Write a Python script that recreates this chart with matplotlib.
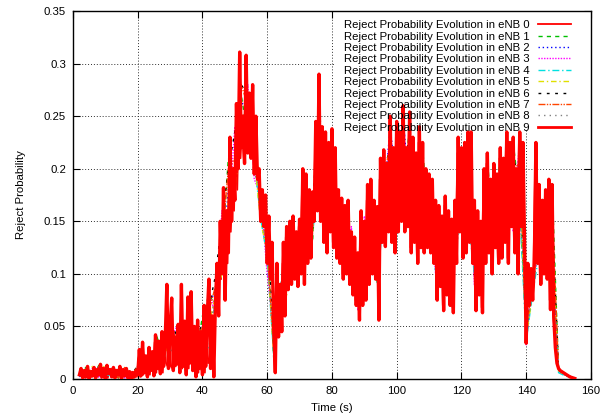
import numpy as np
import matplotlib
matplotlib.use('Agg')
import matplotlib.pyplot as plt
from matplotlib.patches import Rectangle
from matplotlib.ticker import FuncFormatter, MultipleLocator

plt.rcParams['font.family'] = ['Liberation Sans', 'DejaVu Sans']

# time axes: eNB 9 and eNB 0 are sampled finely (offset by a quarter second),
# the other eNBs every 2 s
t_enb9 = np.arange(2.0, 155.01, 0.5)
t_enb0 = np.arange(2.25, 154.76, 0.5)
t_coarse = np.arange(2.0, 154.01, 2.0)

# eNB 9 (drawn last, covers most of the others)
enb9 = [
    0.004, 0.010, 0.001, 0.008, 0.002, 0.012, 0.000, 0.007, 0.003, 0.011,
    0.001, 0.009, 0.004, 0.014, 0.002, 0.010, 0.000, 0.013, 0.005, 0.009,
    0.002, 0.011, 0.001, 0.008, 0.004, 0.012, 0.000, 0.009, 0.003, 0.010,
    0.001, 0.007, 0.000, 0.006, 0.002, 0.008, 0.004, 0.028, 0.003, 0.035,
    0.006, 0.022, 0.002, 0.030, 0.008, 0.026, 0.003, 0.042, 0.010, 0.036,
    0.005, 0.045, 0.012, 0.038, 0.090, 0.010, 0.048, 0.077, 0.008, 0.040,
    0.014, 0.052, 0.006, 0.090, 0.012, 0.055, 0.004, 0.078, 0.015, 0.083,
    0.008, 0.050, 0.002, 0.056, 0.010, 0.045, 0.004, 0.070, 0.012, 0.062,
    0.095, 0.010, 0.060, 0.002, 0.072, 0.110, 0.060, 0.150, 0.100, 0.182,
    0.075, 0.160, 0.120, 0.230, 0.150, 0.200, 0.170, 0.262, 0.200, 0.311,
    0.220, 0.250, 0.205, 0.308, 0.215, 0.272, 0.210, 0.280, 0.195, 0.250,
    0.190, 0.200, 0.150, 0.180, 0.145, 0.175, 0.110, 0.155, 0.095, 0.130,
    0.050, 0.006, 0.110, 0.040, 0.090, 0.045, 0.130, 0.060, 0.145, 0.085,
    0.150, 0.090, 0.155, 0.095, 0.140, 0.088, 0.152, 0.100, 0.200, 0.090,
    0.195, 0.110, 0.180, 0.115, 0.178, 0.150, 0.245, 0.160, 0.290, 0.150,
    0.240, 0.130, 0.235, 0.120, 0.225, 0.140, 0.238, 0.125, 0.220, 0.115,
    0.180, 0.110, 0.172, 0.095, 0.165, 0.100, 0.170, 0.090, 0.140, 0.080,
    0.135, 0.070, 0.120, 0.056, 0.160, 0.070, 0.150, 0.075, 0.185, 0.090,
    0.190, 0.100, 0.170, 0.095, 0.164, 0.056, 0.210, 0.130, 0.218, 0.126,
    0.205, 0.140, 0.250, 0.130, 0.220, 0.120, 0.245, 0.140, 0.235, 0.150,
    0.260, 0.140, 0.220, 0.145, 0.254, 0.120, 0.230, 0.130, 0.215, 0.110,
    0.240, 0.125, 0.225, 0.120, 0.200, 0.125, 0.195, 0.120, 0.190, 0.110,
    0.170, 0.075, 0.165, 0.088, 0.155, 0.065, 0.174, 0.080, 0.160, 0.070,
    0.152, 0.063, 0.170, 0.110, 0.230, 0.140, 0.220, 0.115, 0.225, 0.120,
    0.235, 0.130, 0.235, 0.110, 0.170, 0.065, 0.160, 0.080, 0.150, 0.063,
    0.200, 0.110, 0.215, 0.120, 0.190, 0.100, 0.205, 0.125, 0.195, 0.110,
    0.220, 0.115, 0.210, 0.130, 0.235, 0.110, 0.225, 0.145, 0.230, 0.120,
    0.200, 0.100, 0.235, 0.145, 0.225, 0.130, 0.034, 0.110, 0.070, 0.105,
    0.075, 0.110, 0.225, 0.110, 0.185, 0.090, 0.170, 0.100, 0.180, 0.095,
    0.190, 0.066, 0.185, 0.060, 0.030, 0.015, 0.010, 0.008, 0.007, 0.006,
    0.005, 0.004, 0.003, 0.002, 0.0015, 0.001, 0.0005,
]

# eNB 0 (thin red, mostly hidden in the eNB 9 band)
enb0 = [
    0.009, 0.002, 0.007, 0.001, 0.011, 0.001, 0.008, 0.002, 0.010, 0.001,
    0.008, 0.002, 0.012, 0.001, 0.009, 0.002, 0.011, 0.001, 0.008, 0.002,
    0.010, 0.001, 0.009, 0.002, 0.011, 0.001, 0.008, 0.002, 0.009, 0.001,
    0.006, 0.001, 0.007, 0.001, 0.006, 0.002, 0.020, 0.002, 0.025, 0.004,
    0.018, 0.003, 0.025, 0.004, 0.022, 0.005, 0.035, 0.006, 0.030, 0.008,
    0.040, 0.006, 0.035, 0.015, 0.012, 0.040, 0.012, 0.010, 0.045, 0.012,
    0.045, 0.010, 0.050, 0.010, 0.048, 0.008, 0.055, 0.010, 0.050, 0.012,
    0.045, 0.005, 0.050, 0.006, 0.040, 0.008, 0.055, 0.006, 0.050, 0.015,
    0.020, 0.055, 0.008, 0.060, 0.090, 0.065, 0.120, 0.095, 0.150, 0.090,
    0.140, 0.110, 0.190, 0.140, 0.180, 0.160, 0.230, 0.180, 0.260, 0.210,
    0.240, 0.210, 0.270, 0.215, 0.250, 0.215, 0.255, 0.205, 0.230, 0.195,
    0.190, 0.160, 0.170, 0.150, 0.160, 0.125, 0.145, 0.100, 0.125, 0.080,
    0.020, 0.080, 0.050, 0.085, 0.050, 0.110, 0.065, 0.135, 0.085, 0.140,
    0.095, 0.145, 0.100, 0.135, 0.095, 0.145, 0.105, 0.180, 0.100, 0.185,
    0.115, 0.170, 0.120, 0.165, 0.150, 0.210, 0.165, 0.240, 0.160, 0.220,
    0.140, 0.220, 0.125, 0.215, 0.145, 0.225, 0.130, 0.210, 0.120, 0.175,
    0.115, 0.165, 0.100, 0.160, 0.105, 0.160, 0.095, 0.135, 0.085, 0.125,
    0.075, 0.115, 0.065, 0.145, 0.075, 0.140, 0.080, 0.170, 0.095, 0.180,
    0.105, 0.160, 0.100, 0.155, 0.080, 0.190, 0.135, 0.205, 0.130, 0.200,
    0.145, 0.225, 0.135, 0.210, 0.125, 0.230, 0.145, 0.225, 0.155, 0.235,
    0.145, 0.215, 0.150, 0.240, 0.125, 0.220, 0.135, 0.205, 0.115, 0.225,
    0.130, 0.215, 0.125, 0.195, 0.130, 0.190, 0.125, 0.180, 0.115, 0.160,
    0.080, 0.155, 0.090, 0.150, 0.070, 0.165, 0.085, 0.150, 0.075, 0.145,
    0.068, 0.160, 0.115, 0.215, 0.145, 0.210, 0.120, 0.215, 0.125, 0.225,
    0.135, 0.225, 0.115, 0.160, 0.070, 0.150, 0.085, 0.140, 0.068, 0.190,
    0.115, 0.205, 0.125, 0.185, 0.105, 0.195, 0.130, 0.185, 0.115, 0.210,
    0.120, 0.200, 0.135, 0.225, 0.115, 0.215, 0.150, 0.220, 0.125, 0.190,
    0.105, 0.225, 0.150, 0.215, 0.135, 0.060, 0.090, 0.080, 0.100, 0.080,
    0.105, 0.200, 0.115, 0.175, 0.095, 0.160, 0.105, 0.170, 0.100, 0.180,
    0.075, 0.175, 0.065, 0.045, 0.020, 0.012, 0.009, 0.0075, 0.0065, 0.0055,
    0.0045, 0.0035, 0.0025, 0.0018, 0.0012, 0.0008,
]

enb1 = [
    0.004, 0.011, 0.001, 0.013, 0.003, 0.010, 0.001, 0.006, 0.002, 0.012,
    0.025, 0.008, 0.040, 0.015, 0.050, 0.035, 0.030, 0.065, 0.020, 0.060,
    0.080, 0.070, 0.120, 0.210, 0.190, 0.270, 0.230, 0.240, 0.150, 0.140,
    0.020, 0.090, 0.090, 0.145, 0.100, 0.190, 0.130, 0.240, 0.170, 0.230,
    0.130, 0.160, 0.100, 0.110, 0.100, 0.185, 0.090, 0.210, 0.170, 0.235,
    0.180, 0.240, 0.150, 0.220, 0.140, 0.160, 0.090, 0.150, 0.120, 0.220,
    0.160, 0.160, 0.090, 0.210, 0.130, 0.215, 0.150, 0.225, 0.170, 0.045,
    0.080, 0.180, 0.120, 0.185, 0.008, 0.004, 0.002,
]
enb2 = [
    0.002, 0.008, 0.004, 0.012, 0.001, 0.011, 0.003, 0.009, 0.001, 0.010,
    0.015, 0.018, 0.030, 0.028, 0.045, 0.040, 0.025, 0.060, 0.015, 0.045,
    0.070, 0.085, 0.110, 0.180, 0.200, 0.260, 0.270, 0.200, 0.170, 0.110,
    0.035, 0.060, 0.130, 0.110, 0.140, 0.150, 0.170, 0.220, 0.230, 0.170,
    0.170, 0.120, 0.140, 0.070, 0.150, 0.130, 0.150, 0.170, 0.240, 0.180,
    0.250, 0.170, 0.200, 0.160, 0.190, 0.110, 0.140, 0.100, 0.160, 0.170,
    0.220, 0.100, 0.140, 0.150, 0.190, 0.150, 0.220, 0.160, 0.220, 0.035,
    0.100, 0.130, 0.170, 0.120, 0.009, 0.004, 0.002,
]
enb3 = [
    0.007, 0.003, 0.010, 0.002, 0.012, 0.004, 0.009, 0.001, 0.006, 0.008,
    0.012, 0.025, 0.020, 0.040, 0.035, 0.050, 0.040, 0.045, 0.040, 0.035,
    0.085, 0.060, 0.160, 0.150, 0.240, 0.220, 0.280, 0.190, 0.175, 0.100,
    0.045, 0.050, 0.140, 0.100, 0.145, 0.130, 0.175, 0.200, 0.235, 0.150,
    0.175, 0.110, 0.145, 0.065, 0.155, 0.120, 0.160, 0.150, 0.245, 0.150,
    0.255, 0.150, 0.215, 0.140, 0.195, 0.100, 0.155, 0.085, 0.165, 0.150,
    0.230, 0.090, 0.145, 0.130, 0.195, 0.130, 0.230, 0.140, 0.230, 0.032,
    0.105, 0.110, 0.175, 0.100, 0.009, 0.004, 0.002,
]
enb4 = [
    0.004, 0.004, 0.003, 0.005, 0.004, 0.003, 0.004, 0.003, 0.002, 0.006,
    0.009, 0.010, 0.017, 0.020, 0.028, 0.024, 0.025, 0.030, 0.017, 0.028,
    0.030, 0.075, 0.110, 0.153, 0.197, 0.233, 0.234, 0.208, 0.152, 0.117,
    0.022, 0.058, 0.086, 0.110, 0.108, 0.130, 0.138, 0.192, 0.156, 0.163,
    0.131, 0.114, 0.101, 0.075, 0.097, 0.127, 0.092, 0.157, 0.166, 0.158,
    0.176, 0.159, 0.143, 0.153, 0.144, 0.103, 0.094, 0.097, 0.121, 0.153,
    0.155, 0.100, 0.089, 0.142, 0.137, 0.146, 0.148, 0.153, 0.162, 0.036,
    0.082, 0.119, 0.121, 0.099, 0.006, 0.003, 0.001,
]
enb5 = [
    0.009, 0.002, 0.012, 0.004, 0.014, 0.002, 0.010, 0.003, 0.005, 0.003,
    0.018, 0.010, 0.028, 0.018, 0.040, 0.025, 0.050, 0.035, 0.045, 0.030,
    0.050, 0.080, 0.100, 0.170, 0.180, 0.240, 0.230, 0.210, 0.150, 0.120,
    0.025, 0.070, 0.080, 0.120, 0.110, 0.140, 0.140, 0.190, 0.180, 0.180,
    0.140, 0.130, 0.110, 0.080, 0.120, 0.140, 0.110, 0.160, 0.190, 0.170,
    0.200, 0.190, 0.170, 0.180, 0.160, 0.120, 0.110, 0.120, 0.130, 0.170,
    0.180, 0.120, 0.100, 0.160, 0.150, 0.170, 0.180, 0.170, 0.190, 0.038,
    0.085, 0.140, 0.140, 0.130, 0.007, 0.004, 0.002,
]
enb6 = [
    0.006, 0.007, 0.006, 0.009, 0.008, 0.007, 0.006, 0.007, 0.005, 0.012,
    0.018, 0.020, 0.032, 0.036, 0.055, 0.042, 0.045, 0.060, 0.040, 0.052,
    0.068, 0.098, 0.150, 0.200, 0.235, 0.280, 0.270, 0.235, 0.170, 0.142,
    0.040, 0.085, 0.122, 0.138, 0.135, 0.175, 0.165, 0.255, 0.210, 0.212,
    0.162, 0.150, 0.132, 0.104, 0.138, 0.168, 0.138, 0.198, 0.220, 0.212,
    0.230, 0.218, 0.192, 0.202, 0.180, 0.146, 0.137, 0.138, 0.152, 0.202,
    0.206, 0.145, 0.128, 0.189, 0.178, 0.194, 0.204, 0.202, 0.209, 0.045,
    0.100, 0.162, 0.160, 0.158, 0.009, 0.004, 0.002,
]
enb7 = [
    0.005, 0.010, 0.002, 0.012, 0.006, 0.009, 0.001, 0.011, 0.003, 0.012,
    0.016, 0.022, 0.028, 0.035, 0.055, 0.038, 0.042, 0.055, 0.035, 0.050,
    0.065, 0.088, 0.130, 0.200, 0.210, 0.280, 0.260, 0.230, 0.165, 0.125,
    0.028, 0.085, 0.100, 0.140, 0.115, 0.170, 0.145, 0.250, 0.190, 0.210,
    0.155, 0.145, 0.125, 0.085, 0.140, 0.165, 0.130, 0.195, 0.220, 0.210,
    0.225, 0.210, 0.185, 0.200, 0.175, 0.140, 0.125, 0.135, 0.145, 0.200,
    0.205, 0.140, 0.120, 0.190, 0.170, 0.190, 0.205, 0.200, 0.205, 0.042,
    0.095, 0.160, 0.155, 0.160, 0.009, 0.005, 0.002,
]
enb8 = [
    0.005, 0.004, 0.005, 0.006, 0.006, 0.004, 0.005, 0.005, 0.003, 0.008,
    0.012, 0.013, 0.020, 0.025, 0.035, 0.027, 0.030, 0.038, 0.022, 0.035,
    0.040, 0.085, 0.120, 0.165, 0.205, 0.245, 0.245, 0.215, 0.158, 0.122,
    0.028, 0.064, 0.094, 0.116, 0.114, 0.140, 0.145, 0.206, 0.168, 0.174,
    0.138, 0.122, 0.108, 0.082, 0.106, 0.136, 0.100, 0.167, 0.178, 0.170,
    0.188, 0.170, 0.152, 0.163, 0.150, 0.112, 0.102, 0.106, 0.128, 0.165,
    0.168, 0.110, 0.098, 0.152, 0.146, 0.157, 0.160, 0.165, 0.172, 0.040,
    0.086, 0.128, 0.130, 0.110, 0.007, 0.004, 0.002,
]

labels = ['Reject Probability Evolution in eNB %d' % i for i in range(10)]
colors = ['#ff0000', '#00c000', '#0000ff', '#ff00ff', '#00e0e0',
          '#e0e000', '#000000', '#ff4500', '#808080', '#ff0000']
styles = ['-', (0, (3, 3)), (0, (1, 2)), (0, (1, 1)), (0, (5, 2, 1, 2)),
          (0, (4, 2, 1, 2)), (0, (2, 4)), (0, (5, 1, 1, 1, 1, 1)), (0, (1, 3)), '-']

fig = plt.figure(figsize=(6.03, 4.19), dpi=100)
ax = fig.add_axes([0.121, 0.0955, 0.859, 0.878])

ax.plot(t_enb0, enb0, color=colors[0], linestyle=styles[0], lw=1.3,
        label=labels[0], zorder=2)
coarse = [enb1, enb2, enb3, enb4, enb5, enb6, enb7, enb8]
for i, ys in enumerate(coarse, start=1):
    ax.plot(t_coarse, ys, color=colors[i], linestyle=styles[i], lw=1.0,
            label=labels[i], zorder=2)
ax.plot(t_enb9, enb9, color=colors[9], linestyle='-', lw=2.4,
        label=labels[9], zorder=3)

ax.set_xlim(0, 160)
ax.set_ylim(0, 0.35)
ax.xaxis.set_major_locator(MultipleLocator(20))
ax.yaxis.set_major_locator(MultipleLocator(0.05))
ax.yaxis.set_major_formatter(FuncFormatter(lambda v, p: '%g' % round(v, 3)))
ax.tick_params(direction='in', top=True, right=True, length=5, width=0.8,
               labelsize=8.2, pad=5, colors='black')

# gnuplot style dotted grid, hidden behind the key box
ax.set_axisbelow(True)
ax.grid(True, linestyle=(0, (1, 2)), color='#303030', lw=0.7)
ax.add_patch(Rectangle((80.6, 0.2365), 80, 0.12, facecolor='white',
                       edgecolor='none', zorder=1))

for s in ax.spines.values():
    s.set_linewidth(1.0)

ax.set_xlabel('Time (s)', fontsize=8.2, labelpad=5)
ax.set_ylabel('Reject Probability', fontsize=8.2, labelpad=13)

leg = ax.legend(loc='upper right', bbox_to_anchor=(0.961, 0.975),
                frameon=False, fontsize=8.2, markerfirst=False,
                handlelength=2.9, handletextpad=0.7, labelspacing=0.12,
                borderpad=0, borderaxespad=0)
leg.set_zorder(5)
leg.get_lines()[9].set_linewidth(2.0)

fig.savefig('out.png', dpi=100)
